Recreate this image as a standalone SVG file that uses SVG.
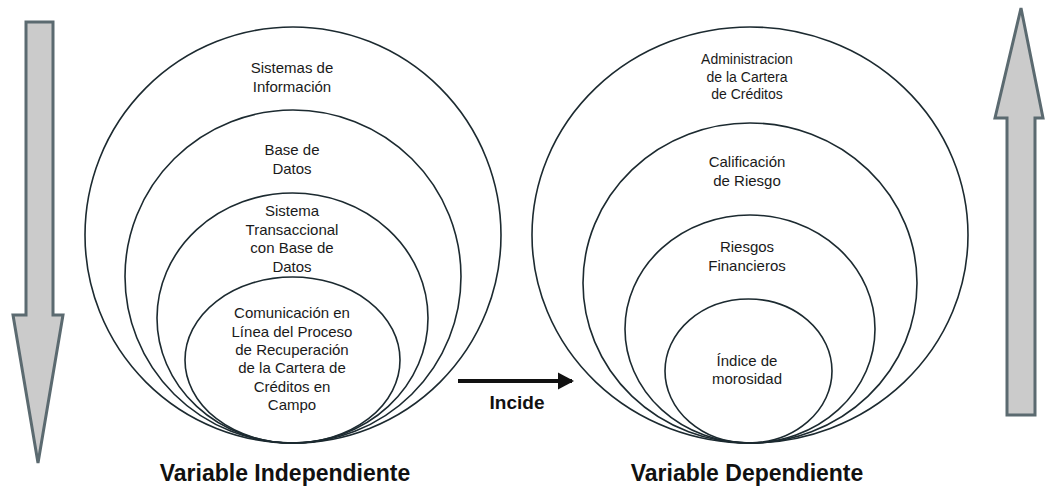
<svg xmlns="http://www.w3.org/2000/svg" width="1046" height="488" viewBox="0 0 1046 488">
<style>
.ring{fill:none;stroke:#1c2a30;stroke-width:1.6}
.t{font-family:"Liberation Sans",Arial,sans-serif;font-size:15px;fill:#1a1a1a;text-anchor:middle}
.ts{font-family:"Liberation Sans",Arial,sans-serif;font-size:14px;fill:#1a1a1a;text-anchor:middle}
.big{font-family:"Liberation Sans",Arial,sans-serif;font-size:23px;font-weight:bold;fill:#111;text-anchor:middle}
.bigarrow{fill:#cbcbcb;stroke:#5b6a70;stroke-width:3;stroke-linejoin:miter}
</style>
<defs>
<marker id="ah" markerWidth="5" markerHeight="5" refX="3.5" refY="2.5" orient="auto" markerUnits="strokeWidth">
<path d="M0,0.4 L4,2.5 L0,4.6 Z" fill="#111"/>
</marker>
</defs>
<rect width="1046" height="488" fill="#fff"/>

<g id="arrow-down">
<path class="bigarrow" d="M26,22 L53,22 L53,315 L63,315 L38,463 L13,315 L26,315 Z"/>
</g>
<g id="arrow-up">
<path class="bigarrow" d="M1021,8 L1043,118 L1035,118 L1035,415 L1007,415 L1007,118 L995,118 Z"/>
</g>

<g id="left-1">
<ellipse class="ring" cx="293" cy="235" rx="208" ry="208"/>
<text class="t" x="292" y="73">Sistemas de</text>
<text class="t" x="292" y="92">Información</text>
</g>
<g id="left-2">
<ellipse class="ring" cx="293" cy="276.5" rx="168" ry="166.5"/>
<text class="t" x="292" y="155">Base de</text>
<text class="t" x="292" y="174">Datos</text>
</g>
<g id="left-3">
<ellipse class="ring" cx="292.5" cy="318" rx="135.5" ry="125"/>
<text class="t" x="292" y="216">Sistema</text>
<text class="t" x="292" y="235">Transaccional</text>
<text class="t" x="292" y="253">con Base de</text>
<text class="t" x="292" y="272">Datos</text>
</g>
<g id="left-4">
<ellipse class="ring" cx="292.5" cy="360" rx="107.5" ry="83"/>
<text class="t" x="292" y="318">Comunicación en</text>
<text class="t" x="292" y="337">Línea del Proceso</text>
<text class="t" x="292" y="355">de Recuperación</text>
<text class="t" x="292" y="373">de la Cartera de</text>
<text class="t" x="292" y="392">Créditos en</text>
<text class="t" x="292" y="410">Campo</text>
</g>
<text class="big" x="285" y="481">Variable Independiente</text>

<g id="right-1">
<ellipse class="ring" cx="750" cy="235" rx="218" ry="208"/>
<text class="ts" x="747" y="64">Administracion</text>
<text class="ts" x="747" y="82">de la Cartera</text>
<text class="ts" x="747" y="99">de Créditos</text>
</g>
<g id="right-2">
<ellipse class="ring" cx="750" cy="283" rx="167" ry="160"/>
<text class="t" x="747" y="167">Calificación</text>
<text class="t" x="747" y="186">de Riesgo</text>
</g>
<g id="right-3">
<ellipse class="ring" cx="750" cy="329" rx="125" ry="114"/>
<text class="t" x="747" y="252">Riesgos</text>
<text class="t" x="747" y="271">Financieros</text>
</g>
<g id="right-4">
<ellipse class="ring" cx="748.5" cy="371" rx="83.5" ry="72"/>
<text class="t" x="747" y="366">Índice de</text>
<text class="t" x="747" y="384">morosidad</text>
</g>
<text class="big" x="747" y="481">Variable Dependiente</text>

<g id="connectors">
<line x1="458" y1="381" x2="572" y2="381" stroke="#111" stroke-width="4" marker-end="url(#ah)"/>
<text x="517" y="409" font-family="Liberation Sans,Arial,sans-serif" font-size="19" font-weight="bold" fill="#111" text-anchor="middle">Incide</text>
</g>
</svg>
